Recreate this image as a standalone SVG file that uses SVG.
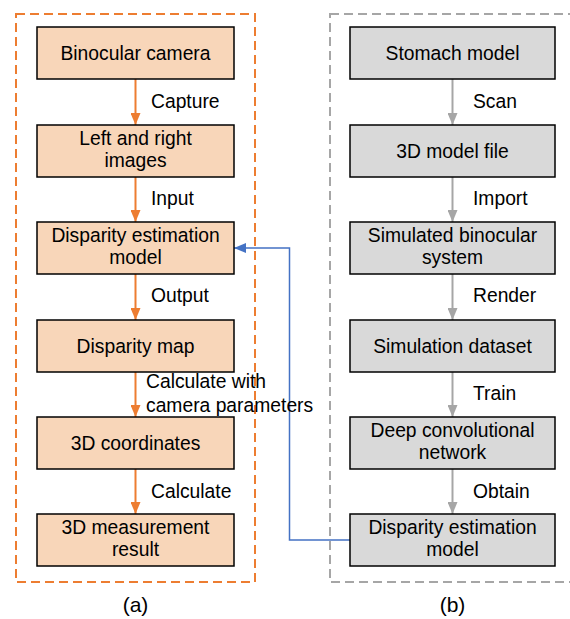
<svg xmlns="http://www.w3.org/2000/svg" width="570" height="619" viewBox="0 0 570 619">
  <style>
    text { font-family: "Liberation Sans", Arial, sans-serif; font-size: 19.3px; fill: #000; }
    .c { text-anchor: middle; }
    .cap { font-size: 21px; }
    .box-o { fill: #F8D6B9; stroke: #000; stroke-width: 1.5; }
    .box-g { fill: #D9D9D9; stroke: #000; stroke-width: 1.5; }
    .frame-o { fill: none; stroke: #ED7D31; stroke-width: 2; stroke-dasharray: 9 5; }
    .frame-g { fill: none; stroke: #A6A6A6; stroke-width: 2; stroke-dasharray: 9 5; }
    .link-o { stroke: #ED7D31; stroke-width: 2; fill: none; }
    .link-g { stroke: #A6A6A6; stroke-width: 2; fill: none; }
    .link-b { stroke: #4472C4; stroke-width: 1.5; fill: none; }
  </style>
  <defs>
    <marker id="ah-o" viewBox="0 0 12 10" refX="12" refY="5" markerWidth="12" markerHeight="10" markerUnits="userSpaceOnUse" orient="auto">
      <path d="M0,0 L12,5 L0,10 Z" fill="#ED7D31"/>
    </marker>
    <marker id="ah-g" viewBox="0 0 12 10" refX="12" refY="5" markerWidth="12" markerHeight="10" markerUnits="userSpaceOnUse" orient="auto">
      <path d="M0,0 L12,5 L0,10 Z" fill="#A6A6A6"/>
    </marker>
    <marker id="ah-b" viewBox="0 0 12 10" refX="12" refY="5" markerWidth="12" markerHeight="10" markerUnits="userSpaceOnUse" orient="auto">
      <path d="M0,0 L12,5 L0,10 Z" fill="#4472C4"/>
    </marker>
  </defs>

  <!-- group frames -->
  <rect class="frame-o" x="16" y="14" width="239" height="568"/>
  <rect class="frame-g" x="330" y="14" width="246" height="568"/>

  <!-- connectors -->
  <g id="connectors">
    <line class="link-o" x1="135.5" y1="79" x2="135.5" y2="125" marker-end="url(#ah-o)"/>
    <line class="link-o" x1="135.5" y1="177" x2="135.5" y2="222" marker-end="url(#ah-o)"/>
    <line class="link-o" x1="135.5" y1="274" x2="135.5" y2="320" marker-end="url(#ah-o)"/>
    <line class="link-o" x1="135.5" y1="372" x2="135.5" y2="417" marker-end="url(#ah-o)"/>
    <line class="link-o" x1="135.5" y1="469" x2="135.5" y2="514" marker-end="url(#ah-o)"/>

    <line class="link-g" x1="452.5" y1="79" x2="452.5" y2="125" marker-end="url(#ah-g)"/>
    <line class="link-g" x1="452.5" y1="177" x2="452.5" y2="222" marker-end="url(#ah-g)"/>
    <line class="link-g" x1="452.5" y1="274" x2="452.5" y2="320" marker-end="url(#ah-g)"/>
    <line class="link-g" x1="452.5" y1="372" x2="452.5" y2="417" marker-end="url(#ah-g)"/>
    <line class="link-g" x1="452.5" y1="469" x2="452.5" y2="514" marker-end="url(#ah-g)"/>

    <polyline class="link-b" points="350,540 289.5,540 289.5,248 234,248" marker-end="url(#ah-b)"/>

    <text x="151" y="108">Capture</text>
    <text x="151" y="205">Input</text>
    <text x="151" y="302">Output</text>
    <text x="146" y="388">Calculate with</text>
    <text x="146" y="412">camera parameters</text>
    <text x="151" y="498">Calculate</text>

    <text x="473" y="108">Scan</text>
    <text x="473" y="205">Import</text>
    <text x="473" y="302">Render</text>
    <text x="473" y="400">Train</text>
    <text x="473" y="498">Obtain</text>
  </g>

  <!-- left pipeline -->
  <g id="binocular-camera">
    <rect class="box-o" x="37" y="27" width="197" height="52"/>
    <text class="c" x="135.5" y="60">Binocular camera</text>
  </g>
  <g id="left-right-images">
    <rect class="box-o" x="37" y="125" width="197" height="52"/>
    <text class="c" x="135.5" y="145">Left and right</text>
    <text class="c" x="135.5" y="167">images</text>
  </g>
  <g id="disparity-model-a">
    <rect class="box-o" x="37" y="222" width="197" height="52"/>
    <text class="c" x="135.5" y="242">Disparity estimation</text>
    <text class="c" x="135.5" y="264">model</text>
  </g>
  <g id="disparity-map">
    <rect class="box-o" x="37" y="320" width="197" height="52"/>
    <text class="c" x="135.5" y="353">Disparity map</text>
  </g>
  <g id="coordinates-3d">
    <rect class="box-o" x="37" y="417" width="197" height="52"/>
    <text class="c" x="135.5" y="450">3D coordinates</text>
  </g>
  <g id="measurement-result">
    <rect class="box-o" x="37" y="514" width="197" height="52"/>
    <text class="c" x="135.5" y="534">3D measurement</text>
    <text class="c" x="135.5" y="556">result</text>
  </g>

  <!-- right pipeline -->
  <g id="stomach-model">
    <rect class="box-g" x="350" y="27" width="205" height="52"/>
    <text class="c" x="452.5" y="60">Stomach model</text>
  </g>
  <g id="model-file">
    <rect class="box-g" x="350" y="125" width="205" height="52"/>
    <text class="c" x="452.5" y="158">3D model file</text>
  </g>
  <g id="sim-binocular">
    <rect class="box-g" x="350" y="222" width="205" height="52"/>
    <text class="c" x="452.5" y="242">Simulated binocular</text>
    <text class="c" x="452.5" y="264">system</text>
  </g>
  <g id="sim-dataset">
    <rect class="box-g" x="350" y="320" width="205" height="52"/>
    <text class="c" x="452.5" y="353">Simulation dataset</text>
  </g>
  <g id="deep-network">
    <rect class="box-g" x="350" y="417" width="205" height="52"/>
    <text class="c" x="452.5" y="437">Deep convolutional</text>
    <text class="c" x="452.5" y="459">network</text>
  </g>
  <g id="disparity-model-b">
    <rect class="box-g" x="350" y="514" width="205" height="52"/>
    <text class="c" x="452.5" y="534">Disparity estimation</text>
    <text class="c" x="452.5" y="556">model</text>
  </g>

  <!-- captions -->
  <text class="c cap" x="135.5" y="612">(a)</text>
  <text class="c cap" x="452.5" y="612">(b)</text>
</svg>
